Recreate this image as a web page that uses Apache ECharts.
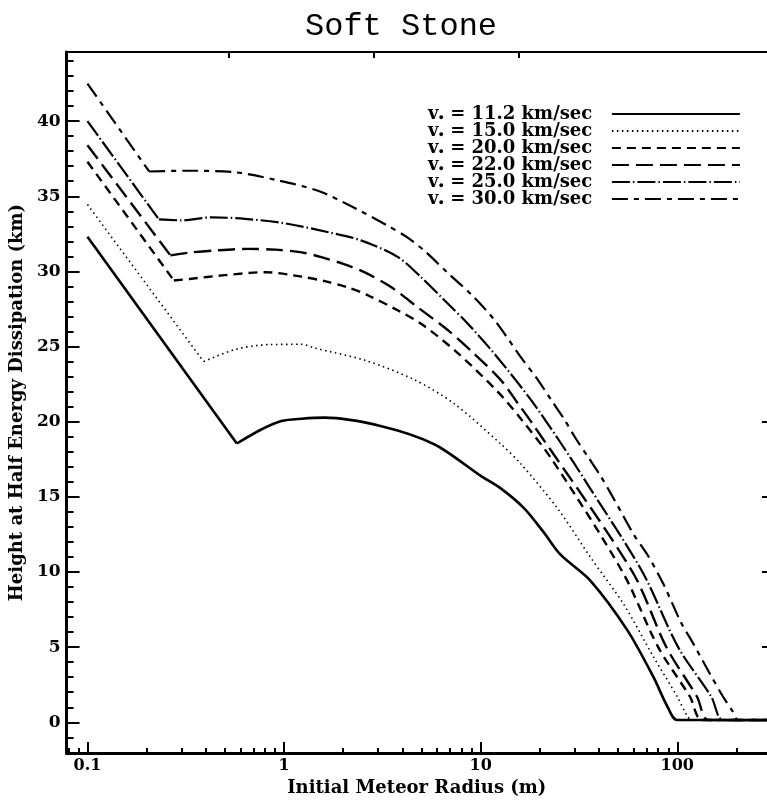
<!DOCTYPE html>
<html>
<head>
<meta charset="utf-8">
<script src="https://cdn.jsdelivr.net/npm/echarts@6/dist/echarts.min.js"></script>
<style>
  html, body { margin: 0; padding: 0; background: #fff; }
  #main { width: 767px; height: 802px; }
</style>
</head>
<body>
<div id="main"></div>
<script>
// velocities (legend) and one radius/height pair of arrays per curve
// first point = r 0.1, second point = the kink, rest is the smooth part
var velocities = ['11.2', '15.0', '20.0', '22.0', '25.0', '30.0'];

var r112 = [0.1, 0.575, 0.77, 0.97, 1.23, 1.61, 3.13, 5.8, 10, 12.7, 16.6, 20.9, 25.5, 36.3, 55.9, 75.7, 89, 100, 290];
var h112 = [32.3, 18.55, 19.5, 20.05, 20.2, 20.27, 19.7, 18.5, 16.4, 15.55, 14.25, 12.65, 11.15, 9.4, 6.1, 3.0, 1.06, 0.15, 0.15];

var r150 = [0.1, 0.39, 0.562, 0.836, 1.23, 1.43, 2.56, 4.59, 7.33, 12.7, 16.0, 24.7, 36.3, 53.4, 75.7, 100, 112, 119, 290];
var h150 = [34.45, 24.0, 24.8, 25.13, 25.15, 24.9, 24.1, 22.8, 21.2, 18.5, 17.2, 14.2, 10.95, 7.85, 4.35, 1.7, 0.46, 0.15, 0.15];

var r200 = [0.1, 0.275, 0.33, 0.5, 0.8, 1.23, 1.61, 2.1, 2.68, 3.8, 5.0, 7.6, 12.2, 16.0, 23, 52.7, 80, 116, 134, 290];
var h200 = [37.3, 29.4, 29.5, 29.75, 29.95, 29.65, 29.35, 28.95, 28.4, 27.4, 26.5, 24.6, 22.0, 20.2, 17.5, 10.0, 5.0, 1.7, 0.15, 0.15];

var r220 = [0.1, 0.264, 0.33, 0.45, 0.65, 0.9, 1.23, 1.55, 2.0, 2.56, 3.5, 4.8, 6.8, 9.2, 12.7, 15.5, 18.5, 59.2, 88, 126, 144, 290];
var h220 = [38.4, 31.07, 31.25, 31.4, 31.5, 31.45, 31.27, 30.95, 30.5, 29.95, 28.96, 27.6, 26.1, 24.56, 22.75, 21.2, 19.8, 10.0, 5.0, 1.7, 0.15, 0.15];

var r250 = [0.1, 0.231, 0.3, 0.43, 0.632, 1.01, 1.69, 2.48, 3.8, 4.99, 6.52, 8.63, 11.7, 17.9, 25.5, 34.7, 66.5, 101, 149, 171, 290];
var h250 = [40.0, 33.46, 33.4, 33.6, 33.5, 33.2, 32.6, 32.05, 30.95, 29.6, 28.1, 26.5, 24.55, 21.5, 18.6, 15.9, 10.0, 5.0, 1.7, 0.15, 0.15];

var r300 = [0.1, 0.206, 0.31, 0.56, 0.9, 1.5, 2.3, 3.3, 4.2, 5.2, 6.8, 8.9, 11.7, 16.0, 19.5, 22.7, 26.5, 30.4, 35.4, 40.7, 47.4, 60, 70.5, 85, 104, 121, 147, 171, 192, 204, 290];
var h300 = [42.5, 36.65, 36.7, 36.6, 36.1, 35.35, 34.2, 33.1, 32.3, 31.35, 29.9, 28.5, 26.8, 24.3, 22.8, 21.5, 20.2, 18.9, 17.6, 16.4, 14.9, 12.5, 11.15, 9.2, 6.7, 5.2, 3.2, 1.7, 0.7, 0.15, 0.15];

var radii = [r112, r150, r200, r220, r250, r300];
var heights = [h112, h150, h200, h220, h250, h300];
var dashes = ['solid', [1.5, 3.5], [9, 6], [17, 7], [18, 3, 1.5, 3], [16, 6, 5, 6]];
var widths = [2.6, 1.6, 2.4, 2.4, 2.2, 2.2];

// axis tick values
var xLabels = [0.1, 1, 10, 100];
var xMinor = [0.08, 0.09, 0.2, 0.3, 0.4, 0.5, 0.6, 0.7, 0.8, 0.9, 2, 3, 4, 5, 6, 7, 8, 9,
              20, 30, 40, 50, 60, 70, 80, 90, 200];
var yLabels = [0, 5, 10, 15, 20, 25, 30, 35, 40];
var yMinor = [];
for (var k = -2; k <= 44; k++) yMinor.push(k);
var rightTicks = [5, 10, 15, 20];
var topTicks = [23.2, 43.9, 64.5];

var boldFont = 'DejaVu Serif';
var myChart = echarts.init(document.getElementById('main'));

var series = [];
velocities.forEach(function (v, i) {
    var pts = radii[i].map(function (r, j) { return [r, heights[i][j]]; });
    var style = { color: '#000', width: widths[i], type: dashes[i], cap: 'butt' };
    // straight branch down to the kink
    series.push({
        name: v, type: 'line', symbol: 'none', silent: true, color: '#000',
        lineStyle: style, data: pts.slice(0, 2)
    });
    // curved part after the kink
    series.push({
        name: v, type: 'line', symbol: 'none', silent: true, color: '#000',
        smooth: 0.3, lineStyle: style, data: pts.slice(1)
    });
});

myChart.setOption({
    backgroundColor: '#fff',
    animation: false,
    title: {
        text: 'Soft Stone',
        left: 300,
        top: 6,
        textStyle: { fontFamily: 'Liberation Mono', fontSize: 32, fontWeight: 'normal', color: '#000' }
    },
    legend: {
        data: velocities,
        orient: 'vertical',
        left: 423,
        top: 100,
        align: 'right',
        itemWidth: 128,
        itemHeight: 14,
        itemGap: -1,
        selectedMode: false,
        itemStyle: { opacity: 0 },
        formatter: function (name) {
            return '{v|v}{s|\u25CF}{t| = ' + name + ' km/sec}';
        },
        textStyle: {
            color: '#000',
            lineHeight: 17,
            rich: {
                v: { fontFamily: boldFont, fontWeight: 'bold', fontSize: 18, lineHeight: 17, color: '#000', align: 'left' },
                s: { fontSize: 9, color: '#000', verticalAlign: 'bottom', lineHeight: 5, align: 'left' },
                t: { fontFamily: boldFont, fontWeight: 'bold', fontSize: 18, width: 163, lineHeight: 17, color: '#000', align: 'left' }
            }
        }
    },
    grid: { left: 64, right: 0, top: 52, bottom: 42, containLabel: false },
    xAxis: [{
        type: 'log',
        min: 0.0783,
        max: 286,
        name: 'Initial Meteor Radius (m)',
        nameLocation: 'middle',
        nameGap: 20,
        nameTextStyle: { fontFamily: boldFont, fontWeight: 'bold', fontSize: 18, color: '#000' },
        axisLine: { onZero: false, lineStyle: { color: '#000', width: 3 } },
        axisTick: { inside: true, length: 11, customValues: xLabels, lineStyle: { color: '#000', width: 2 } },
        axisLabel: {
            customValues: xLabels,
            margin: 5,
            fontFamily: boldFont, fontWeight: 'bold', fontSize: 16, color: '#000',
            formatter: function (v) { return String(v); }
        },
        splitLine: { show: false }
    }, {
        type: 'log',
        min: 0.0783,
        max: 286,
        position: 'bottom',
        axisLine: { show: false, onZero: false },
        axisTick: { inside: true, length: 5, customValues: xMinor, lineStyle: { color: '#000', width: 2 } },
        axisLabel: { show: false },
        splitLine: { show: false }
    }, {
        type: 'value',
        min: 0,
        max: 100,
        position: 'top',
        axisLine: { onZero: false, lineStyle: { color: '#000', width: 2 } },
        axisTick: { inside: true, length: 6, customValues: topTicks, lineStyle: { color: '#000', width: 2 } },
        axisLabel: { show: false },
        splitLine: { show: false }
    }],
    yAxis: [{
        type: 'value',
        min: -2.05,
        max: 44.6,
        name: 'Height at Half Energy Dissipation (km)',
        nameLocation: 'middle',
        nameGap: 34,
        nameTextStyle: { fontFamily: boldFont, fontWeight: 'bold', fontSize: 18, color: '#000' },
        axisLine: { onZero: false, lineStyle: { color: '#000', width: 3 } },
        axisTick: { inside: true, length: 13, customValues: yLabels, lineStyle: { color: '#000', width: 2 } },
        axisLabel: {
            customValues: yLabels,
            margin: 6,
            fontFamily: boldFont, fontWeight: 'bold', fontSize: 17, color: '#000'
        },
        splitLine: { show: false }
    }, {
        type: 'value',
        min: -2.05,
        max: 44.6,
        position: 'left',
        axisLine: { show: false, onZero: false },
        axisTick: { inside: true, length: 7, customValues: yMinor, lineStyle: { color: '#000', width: 2 } },
        axisLabel: { show: false },
        splitLine: { show: false }
    }, {
        type: 'value',
        min: -2.05,
        max: 44.6,
        position: 'right',
        axisLine: { show: false, onZero: false },
        axisTick: { inside: true, length: 5, customValues: rightTicks, lineStyle: { color: '#000', width: 2 } },
        axisLabel: { show: false },
        splitLine: { show: false }
    }],
    series: series
});
</script>
</body>
</html>
